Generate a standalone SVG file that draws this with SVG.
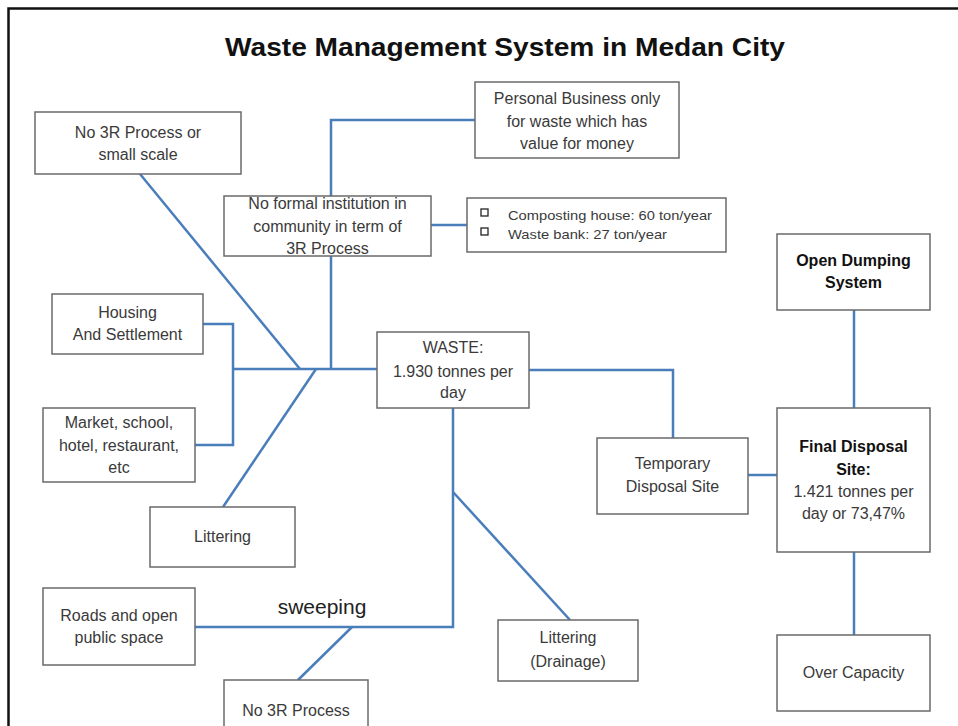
<svg xmlns="http://www.w3.org/2000/svg" width="958" height="726" viewBox="0 0 958 726">
<style>
.box{fill:#fff;stroke:#6a6a6a;stroke-width:1.5}
.t{font-family:"Liberation Sans",Arial,sans-serif;font-size:16px;fill:#3a3a3a;text-anchor:middle}
.b{font-weight:bold;fill:#111}
.s{font-family:"Liberation Sans",Arial,sans-serif;font-size:13px;fill:#3a3a3a}
.c{fill:none;stroke:#4a7ebb;stroke-width:2.5}
.chk{fill:#fff;stroke:#222;stroke-width:1.3}
</style>
<rect x="0" y="0" width="958" height="726" fill="#fff"/>
<path d="M8.5,726 V8.5 H958" fill="none" stroke="#111" stroke-width="2.5"/>
<text x="505" y="56" font-family="'Liberation Sans',Arial,sans-serif" font-size="26" font-weight="bold" fill="#111" text-anchor="middle" textLength="560" lengthAdjust="spacingAndGlyphs">Waste Management System in Medan City</text>
<g id="connectors">
<path class="c" d="M475,120 H331 V369"/>
<path class="c" d="M431,225 H467"/>
<path class="c" d="M233,369 H377"/>
<path class="c" d="M203,324 H233 V445 H195"/>
<path class="c" d="M140,174 L300,369"/>
<path class="c" d="M223,507 L316,369"/>
<path class="c" d="M529,370 H673 V438"/>
<path class="c" d="M748,475 H777"/>
<path class="c" d="M854,310 V408"/>
<path class="c" d="M854,552 V635"/>
<path class="c" d="M453,408 V627 H195"/>
<path class="c" d="M453,492 L570,620"/>
<path class="c" d="M352,627 L298,680"/>
<text x="322" y="614" font-family="'Liberation Sans',Arial,sans-serif" font-size="21" fill="#222" text-anchor="middle">sweeping</text>
</g>
<g id="n_no3r_small">
<rect class="box" x="35" y="112" width="206" height="62"/>
<text class="t" x="138" y="138">No 3R Process or</text>
<text class="t" x="138" y="160">small scale</text>
</g>
<g id="n_personal">
<rect class="box" x="475" y="82" width="204" height="76"/>
<text class="t" x="577" y="104">Personal Business only</text>
<text class="t" x="577" y="127">for waste which has</text>
<text class="t" x="577" y="149">value for money</text>
</g>
<g id="n_noformal">
<rect class="box" x="224" y="196" width="207" height="60"/>
<text class="t" x="327.5" y="209">No formal institution in</text>
<text class="t" x="327.5" y="232">community in term of</text>
<text class="t" x="327.5" y="254">3R Process</text>
</g>
<g id="n_compost">
<rect class="box" x="467" y="198" width="259" height="54"/>
<rect class="chk" x="481" y="209" width="7" height="7"/>
<rect class="chk" x="481" y="228" width="7" height="7"/>
<text class="s" x="508" y="220" textLength="204" lengthAdjust="spacingAndGlyphs">Composting house: 60 ton/year</text>
<text class="s" x="508" y="239" textLength="159" lengthAdjust="spacingAndGlyphs">Waste bank: 27 ton/year</text>
</g>
<g id="n_housing">
<rect class="box" x="52" y="294" width="151" height="60"/>
<text class="t" x="127.5" y="318">Housing</text>
<text class="t" x="127.5" y="340">And Settlement</text>
</g>
<g id="n_market">
<rect class="box" x="43" y="408" width="152" height="74"/>
<text class="t" x="119" y="428">Market, school,</text>
<text class="t" x="119" y="451">hotel, restaurant,</text>
<text class="t" x="119" y="473">etc</text>
</g>
<g id="n_littering">
<rect class="box" x="150" y="507" width="145" height="60"/>
<text class="t" x="222.5" y="542">Littering</text>
</g>
<g id="n_waste">
<rect class="box" x="377" y="332" width="152" height="76"/>
<text class="t" x="453" y="353">WASTE:</text>
<text class="t" x="453" y="377">1.930 tonnes per</text>
<text class="t" x="453" y="398">day</text>
</g>
<g id="n_temporary">
<rect class="box" x="597" y="438" width="151" height="76"/>
<text class="t" x="672.5" y="469">Temporary</text>
<text class="t" x="672.5" y="492">Disposal Site</text>
</g>
<g id="n_opendump">
<rect class="box" x="777" y="234" width="153" height="76"/>
<text class="t b" x="853.5" y="266">Open Dumping</text>
<text class="t b" x="853.5" y="288">System</text>
</g>
<g id="n_final">
<rect class="box" x="777" y="408" width="153" height="144"/>
<text class="t b" x="853.5" y="452">Final Disposal</text>
<text class="t b" x="853.5" y="475">Site:</text>
<text class="t" x="853.5" y="497">1.421 tonnes per</text>
<text class="t" x="853.5" y="519">day or 73,47%</text>
</g>
<g id="n_over">
<rect class="box" x="777" y="635" width="153" height="76"/>
<text class="t" x="853.5" y="678">Over Capacity</text>
</g>
<g id="n_roads">
<rect class="box" x="43" y="588" width="152" height="77"/>
<text class="t" x="119" y="621">Roads and open</text>
<text class="t" x="119" y="643">public space</text>
</g>
<g id="n_no3r">
<rect class="box" x="224" y="680" width="144" height="60"/>
<text class="t" x="296" y="716">No 3R Process</text>
</g>
<g id="n_drainage">
<rect class="box" x="498" y="620" width="140" height="61"/>
<text class="t" x="568" y="643">Littering</text>
<text class="t" x="568" y="667">(Drainage)</text>
</g>
</svg>
